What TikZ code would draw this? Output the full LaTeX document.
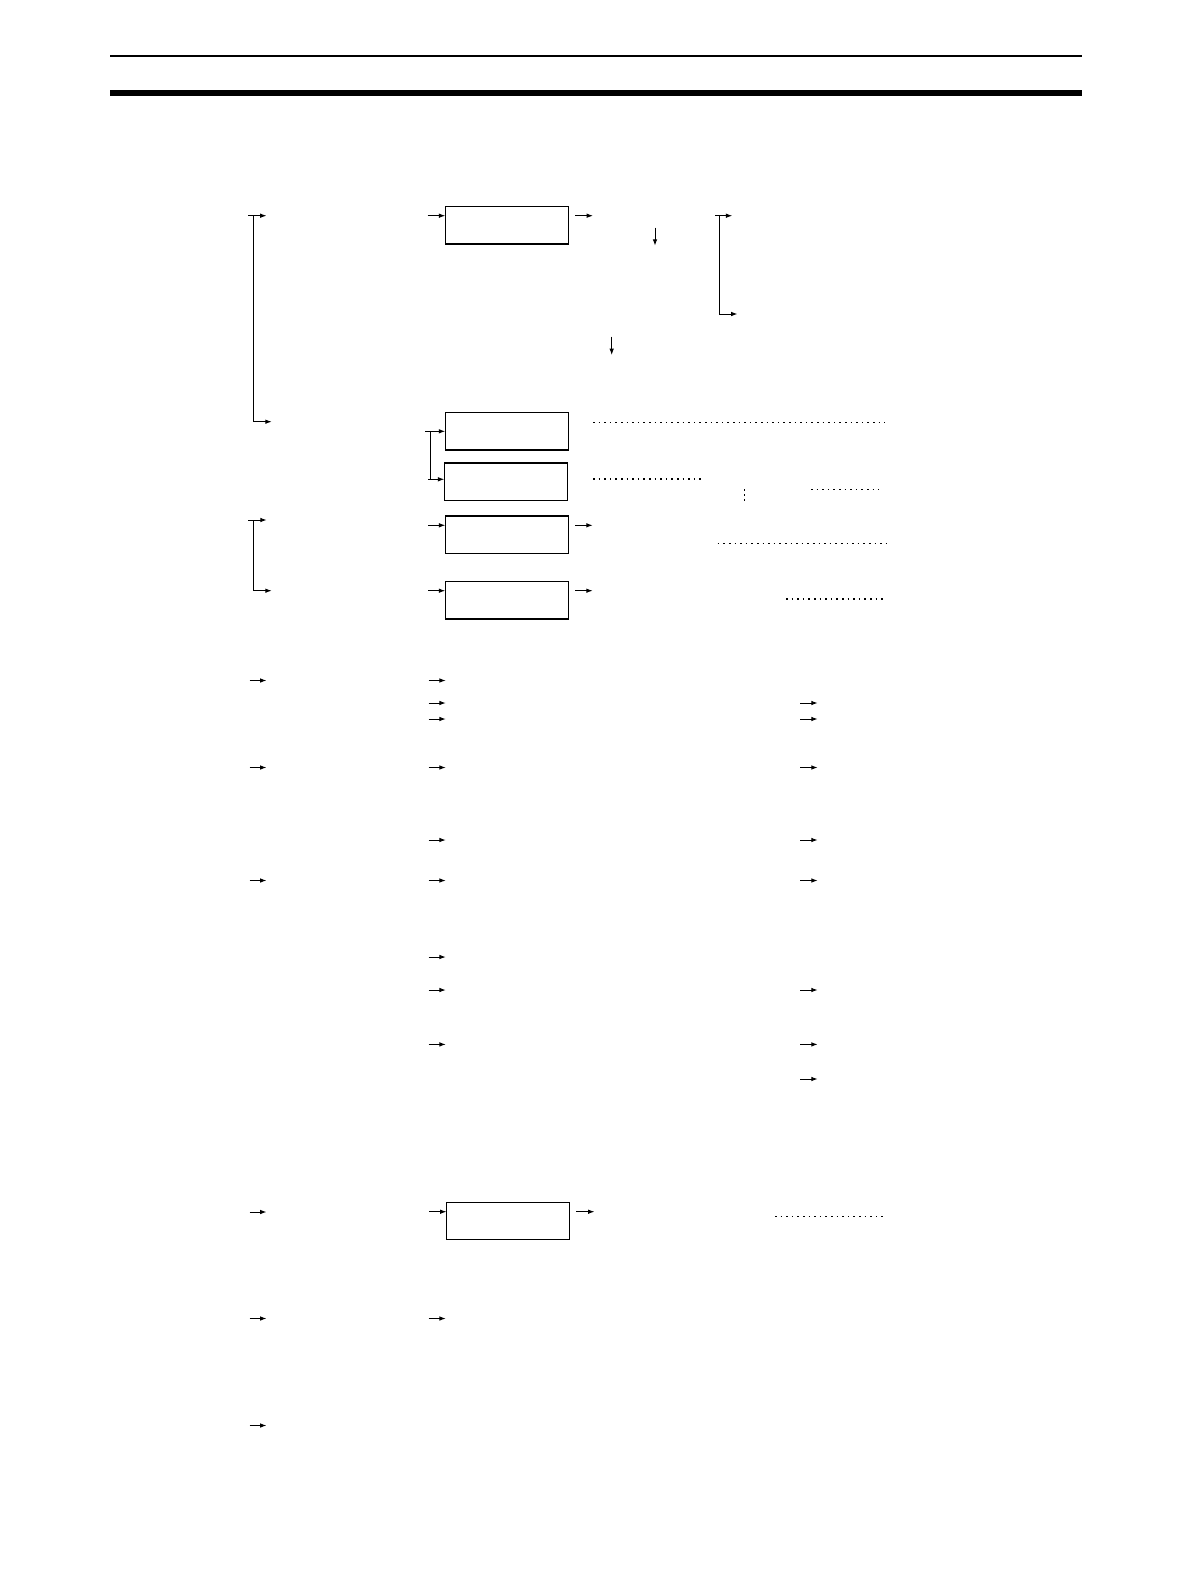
\documentclass[tikz,border=0pt]{standalone}
\usetikzlibrary{arrows.meta}
\tikzset{
  arr/.style={line width=0.5pt,-{Latex[length=3.2pt,width=2.3pt]}},
  plain/.style={line width=0.5pt},
  boxn/.style={draw,line width=0.6pt,inner sep=0pt,outer sep=0pt,minimum width=61.5pt,minimum height=18.7pt},
  dotl/.style={line width=0.6pt,dash pattern=on 0.8pt off 2pt},
}
\begin{document}
\begin{tikzpicture}[x=0.5pt,y=-0.5pt]
\useasboundingbox (0,0) rectangle (1190,1586);
% header rules
\draw[line width=1pt] (110,55.7) -- (1082,55.7);
\draw[line width=2.85pt] (110,92.85) -- (1082,92.85);

% boxes
\node[boxn] (b1) at (506.8,225.2) {};
\node[boxn] (b2) at (506.7,431.3) {};
\node[boxn] (b3) at (505.8,481.7) {};
\node[boxn] (b4) at (506.8,534.7) {};
\node[boxn] (b5) at (506.7,600.3) {};
\node[boxn] (b6) at (508,1221) {};

% inputs to boxes
\coordinate (i1) at (427.7,215.7);
\coordinate (i4) at (428.3,525.3);
\coordinate (i5) at (428.3,590.7);
\coordinate (i6) at (429,1211.7);
\draw[arr] (i1) -- (i1 -| b1.west);
\draw[arr] (i4) -- (i4 -| b4.west);
\draw[arr] (i5) -- (i5 -| b5.west);
\draw[arr] (i6) -- (i6 -| b6.west);

% outputs from boxes
\coordinate (o1s) at (575,215.7);   \coordinate (o1e) at (593,215.7);
\coordinate (o4s) at (575,525.3);   \coordinate (o4e) at (592.7,525.3);
\coordinate (o5s) at (575,590.7);   \coordinate (o5e) at (592.7,590.7);
\coordinate (o6s) at (576,1211.7);  \coordinate (o6e) at (594.5,1211.7);
\draw[arr] (o1s) -- (o1e);
\draw[arr] (o4s) -- (o4e);
\draw[arr] (o5s) -- (o5e);
\draw[arr] (o6s) -- (o6e);

% small bracket b2/b3
\coordinate (sbt) at (425,431.3);
\coordinate (sbv) at (430.3,431.3);
\coordinate (sbb) at (428.3,479.3);
\draw[arr] (sbt) -- (sbt -| b2.west);
\draw[plain] (sbv) -- (sbv |- sbb);
\draw[arr] (sbb) -- (sbb -| b3.west);

% left bracket 1
\coordinate (l1a) at (248.3,215.7);
\coordinate (l1b) at (266.5,215.7);
\coordinate (l1v) at (253.3,215.7);
\coordinate (l1c) at (271.7,421.7);
\draw[arr] (l1a) -- (l1b);
\draw[arr] (l1v) |- (l1c);

% left bracket 2
\coordinate (l2a) at (248.3,520);
\coordinate (l2b) at (266.7,520);
\coordinate (l2v) at (253.3,520);
\coordinate (l2c) at (271.7,590.7);
\draw[arr] (l2a) -- (l2b);
\draw[arr] (l2v) |- (l2c);

% right bracket
\coordinate (rba) at (715.3,215.7);
\coordinate (rbb) at (732.3,215.7);
\coordinate (rbv) at (719.3,215.7);
\coordinate (rbc) at (737.5,314);
\draw[arr] (rba) -- (rbb);
\draw[arr] (rbv) |- (rbc);

% down arrows
\coordinate (d1s) at (655,227.7);   \coordinate (d1e) at (655,245.7);
\coordinate (d2s) at (611.7,336.7); \coordinate (d2e) at (611.7,355);
\draw[arr] (d1s) -- (d1e);
\draw[arr] (d2s) -- (d2e);

% dotted leaders
\coordinate (p1s) at (593,422.3);  \coordinate (p1e) at (884.5,422.3);
\coordinate (p2s) at (593,479);    \coordinate (p2e) at (703.5,479);
\coordinate (p3s) at (811,489.3);  \coordinate (p3e) at (879,489.3);
\coordinate (p4s) at (744.3,489.3);\coordinate (p4e) at (744.3,503.3);
\coordinate (p5s) at (717.7,543.3);\coordinate (p5e) at (886,543.3);
\coordinate (p6s) at (786,599);    \coordinate (p6e) at (884.5,599);
\coordinate (p7s) at (775,1216.3); \coordinate (p7e) at (885,1216.3);
\draw[dotl] (p1s) -- (p1e);
\draw[dotl] (p2s) -- (p2e);
\draw[dotl] (p3s) -- (p3e);
\draw[line width=0.6pt,dash pattern=on 0.8pt off 1.6pt] (p4s) -- (p4e);
\draw[dotl] (p5s) -- (p5e);
\draw[dotl] (p6s) -- (p6e);
\draw[dotl] (p7s) -- (p7e);

% free arrows, left column
\foreach \y/\n in {680.5/1,767.5/2,880.5/3,1212/4,1318.5/5,1425.5/6}{
  \coordinate (L\n s) at (249.5,\y); \coordinate (L\n e) at (266.5,\y);
  \draw[arr] (L\n s) -- (L\n e);
}
% free arrows, middle column
\foreach \y/\n in {680.5/1,703/2,719/3,767.5/4,840/5,880.5/6,957/7,990/8,1044.4/9,1318.5/10}{
  \coordinate (M\n s) at (428.5,\y); \coordinate (M\n e) at (445.8,\y);
  \draw[arr] (M\n s) -- (M\n e);
}
% free arrows, right column
\foreach \y/\n in {703/1,719/2,767.5/3,840/4,880.5/5,990/6,1044.4/7,1079/8}{
  \coordinate (R\n s) at (800,\y); \coordinate (R\n e) at (817.7,\y);
  \draw[arr] (R\n s) -- (R\n e);
}
\end{tikzpicture}
\end{document}
